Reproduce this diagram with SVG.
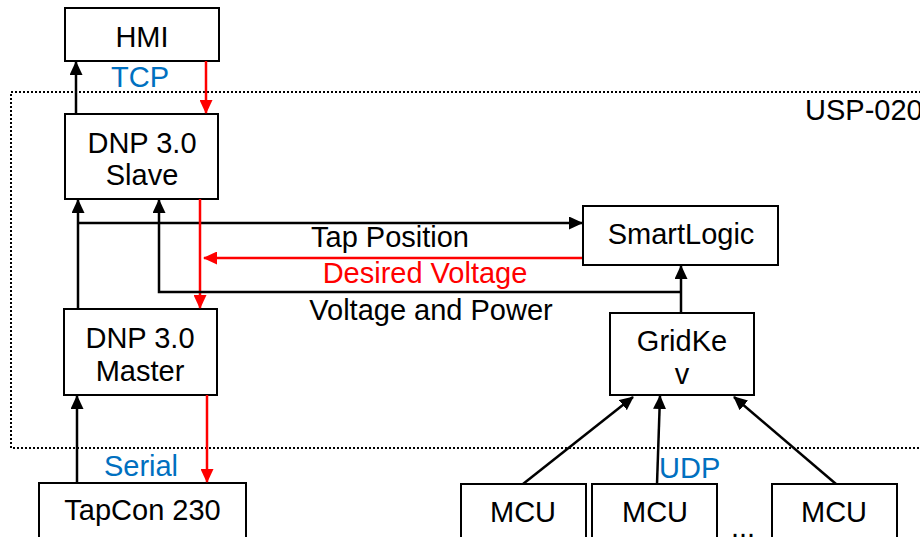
<svg xmlns="http://www.w3.org/2000/svg" width="920" height="537" viewBox="0 0 920 537">
<style>
.box{fill:#fff;stroke:#000;stroke-width:2}
.t{font-family:"Liberation Sans",Arial,sans-serif;font-size:29px;fill:#000;text-anchor:middle}
.blue{fill:#0070C0}
.red{fill:#FF0000}
.lk{fill:none;stroke:#000;stroke-width:2.5}
.lr{fill:none;stroke:#FF0000;stroke-width:2.5}
</style>
<defs>
<marker id="ak" markerWidth="14" markerHeight="13" refX="13" refY="6.5" orient="auto" markerUnits="userSpaceOnUse"><path d="M0,0 L14,6.5 L0,13 Z" fill="#000"/></marker>
<marker id="ar" markerWidth="14" markerHeight="13" refX="13" refY="6.5" orient="auto" markerUnits="userSpaceOnUse"><path d="M0,0 L14,6.5 L0,13 Z" fill="#FF0000"/></marker>
</defs>
<g id="usp020">
<rect x="11" y="92" width="920" height="356" fill="none" stroke="#000" stroke-width="2" stroke-dasharray="2,2"/>
<text x="805" y="120" class="t" style="text-anchor:start">USP-020</text>
</g>
<g id="hmi"><rect class="box" x="65" y="8" width="154" height="53"/><text class="t" x="142" y="47">HMI</text></g>
<g id="slave"><rect class="box" x="65" y="114" width="153" height="85"/><text class="t" x="142" y="153">DNP 3.0</text><text class="t" x="142" y="185">Slave</text></g>
<g id="master"><rect class="box" x="64" y="309" width="153" height="86"/><text class="t" x="140" y="348">DNP 3.0</text><text class="t" x="140" y="381">Master</text></g>
<g id="tapcon"><rect class="box" x="39" y="483" width="207" height="70"/><text class="t" x="142.5" y="520">TapCon 230</text></g>
<g id="smartlogic"><rect class="box" x="583" y="206" width="195" height="59"/><text class="t" x="681" y="244">SmartLogic</text></g>
<g id="gridkev"><rect class="box" x="610" y="313" width="144" height="82"/><text class="t" x="682" y="351">GridKe</text><text class="t" x="682" y="384">v</text></g>
<g id="mcu1"><rect class="box" x="461" y="484" width="125" height="70"/><text class="t" x="523" y="522">MCU</text></g>
<g id="mcu2"><rect class="box" x="592" y="484" width="125" height="70"/><text class="t" x="655" y="522">MCU</text></g>
<g id="mcu3"><rect class="box" x="772" y="484" width="125" height="70"/><text class="t" x="834" y="522">MCU</text></g>
<g id="connectors">
<line class="lk" x1="76" y1="114" x2="76" y2="62" marker-end="url(#ak)"/>
<line class="lr" x1="206" y1="61" x2="206" y2="113" marker-end="url(#ar)"/>
<line class="lk" x1="78" y1="309" x2="78" y2="200" marker-end="url(#ak)"/>
<polyline class="lk" points="78,223 582,223" marker-end="url(#ak)"/>
<line class="lr" x1="200" y1="199" x2="200" y2="308" marker-end="url(#ar)"/>
<line class="lr" x1="582" y1="258" x2="204" y2="258" marker-end="url(#ar)"/>
<polyline class="lk" points="681,292 159,292 159,200" marker-end="url(#ak)"/>
<line class="lk" x1="681" y1="313" x2="681" y2="266" marker-end="url(#ak)"/>
<line class="lk" x1="77" y1="483" x2="77" y2="396" marker-end="url(#ak)"/>
<line class="lr" x1="207" y1="395" x2="207" y2="482" marker-end="url(#ar)"/>
<line class="lk" x1="523" y1="484" x2="633" y2="397" marker-end="url(#ak)"/>
<line class="lk" x1="657" y1="484" x2="660" y2="396" marker-end="url(#ak)"/>
<line class="lk" x1="836" y1="484" x2="734" y2="397" marker-end="url(#ak)"/>
<text class="t blue" x="140" y="87">TCP</text>
<text class="t blue" x="141" y="476">Serial</text>
<text class="t blue" x="659" y="478" style="text-anchor:start">UDP</text>
<text class="t" x="390" y="247">Tap Position</text>
<text class="t red" x="425" y="283">Desired Voltage</text>
<text class="t" x="431" y="320">Voltage and Power</text>
<text class="t" x="743" y="537">...</text>
</g>
</svg>
